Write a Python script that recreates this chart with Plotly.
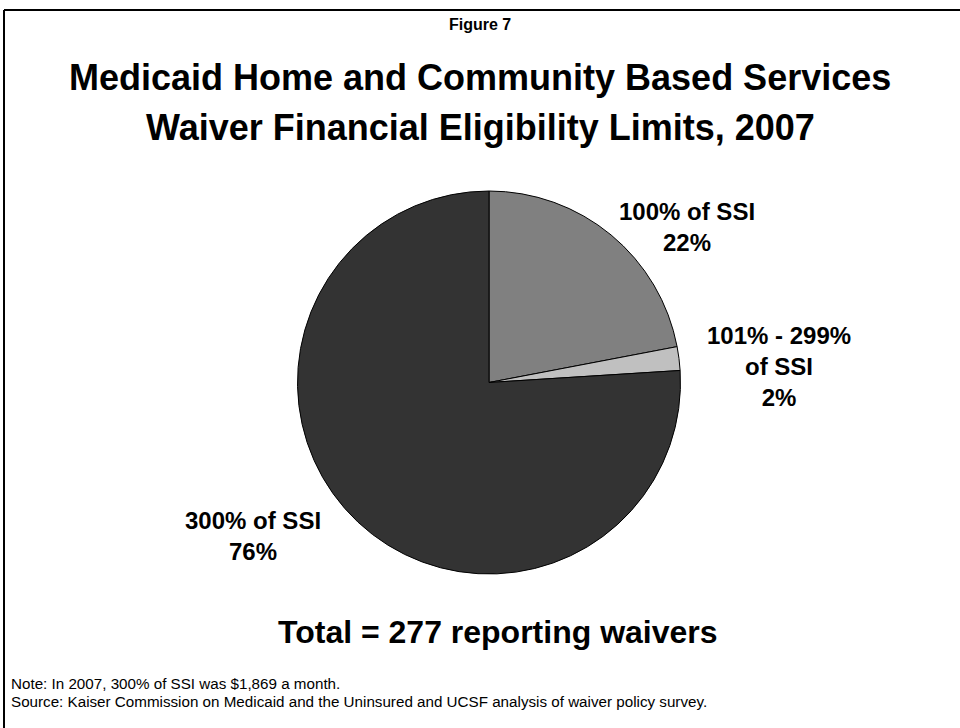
import plotly.graph_objects as go

# Waiver financial eligibility limits, share of reporting waivers (2007)
categories = ["100% of SSI", "101% - 299%<br>of SSI", "300% of SSI"]
shares = [22, 2, 76]
slice_colors = ["#808080", "#c0c0c0", "#333333"]

W, H = 960, 728
FONT = "Liberation Sans, Arial, Helvetica, sans-serif"


def px(x):
    return x / W


def py(y):
    return 1 - y / H


# Pie geometry in pixels
cx, cy, r = 489, 382.5, 191.5

fig = go.Figure(
    go.Pie(
        labels=categories,
        values=shares,
        sort=False,
        direction="clockwise",
        rotation=0,
        marker=dict(colors=slice_colors, line=dict(color="#000000", width=1)),
        textinfo="none",
        hoverinfo="label+percent",
        showlegend=False,
        domain=dict(x=[px(cx - r), px(cx + r)], y=[py(cy + r), py(cy - r)]),
    )
)

annotations = []


def add_text(x, y, text, size, bold=True, xanchor="center"):
    annotations.append(
        dict(
            x=px(x), y=py(y), xref="paper", yref="paper",
            text=f"<b>{text}</b>" if bold else text,
            showarrow=False, xanchor=xanchor, yanchor="middle",
            font=dict(family=FONT, size=size, color="#000000"),
        )
    )


add_text(480, 25, "Figure 7", 16)
add_text(480, 78, "Medicaid Home and Community Based Services", 36)
add_text(480, 127, "Waiver Financial Eligibility Limits, 2007", 36)

# Slice labels with their percentages
label_pos = [(687, 227), (779, 366), (253, 536)]
for (lx, ly), name, v in zip(label_pos, categories, shares):
    add_text(lx, ly, f"{name}<br>{v}%", 24)

add_text(498, 632, "Total = 277 reporting waivers", 32)

add_text(9, 683, "Note: In 2007, 300% of SSI was $1,869 a month.", 15.2, bold=False, xanchor="left")
add_text(9, 701, "Source: Kaiser Commission on Medicaid and the Uninsured and UCSF analysis of waiver policy survey.", 15.2, bold=False, xanchor="left")

# Slide frame: top and left edges
shapes = [
    dict(type="line", xref="paper", yref="paper", x0=px(4), x1=1, y0=py(10), y1=py(10),
         line=dict(color="#000000", width=2)),
    dict(type="line", xref="paper", yref="paper", x0=px(4), x1=px(4), y0=py(10), y1=0,
         line=dict(color="#000000", width=2)),
]

fig.update_layout(
    width=W, height=H,
    margin=dict(l=0, r=0, t=0, b=0),
    paper_bgcolor="#ffffff",
    plot_bgcolor="#ffffff",
    annotations=annotations,
    shapes=shapes,
)

fig.write_html("out.html")
